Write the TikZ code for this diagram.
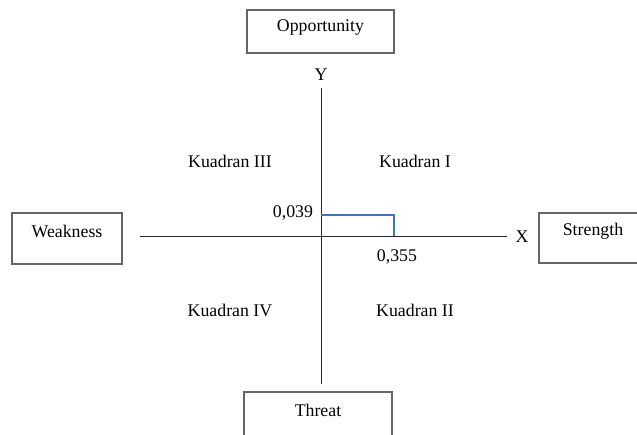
\documentclass[tikz,border=0pt]{standalone}
\usepackage{fontspec}
\setmainfont{Liberation Serif}
\usetikzlibrary{positioning}

\begin{document}
\begin{tikzpicture}[x=0.03cm,y=-0.03cm]
    \tikzstyle{kotak}=[draw=black!60,line width=1.1pt,inner sep=0pt,outer sep=0pt]
    \tikzstyle{teks}=[font=\fontsize{15.2}{18}\selectfont,inner sep=0pt]
    \tikzstyle{sumbu}=[draw=black!85,line width=0.8pt]
    \useasboundingbox (0,0) rectangle (637,434);
    \clip (0,0) rectangle (637,434);
    % kotak faktor
    \node[kotak,minimum width=4.41cm,minimum height=1.29cm] (opp) at (320.5,31.5) {};
    \node[kotak,minimum width=3.30cm,minimum height=1.53cm] (weak) at (67,238.5) {};
    \node[kotak,minimum width=3.30cm,minimum height=1.50cm] (str) at (594,238) {};
    \node[kotak,minimum width=4.44cm,minimum height=1.80cm] (thr) at (318,422) {};
    \node[teks] (opptxt) at (320.5,28) {Opportunity};
    \node[teks] (weaktxt) at (67,231) {Weakness};
    \node[teks] (strtxt) at (593,231) {Strength};
    \node[teks] (thrtxt) at (318,410) {Threat};
    % sumbu
    \coordinate (atas) at (321,88);
    \coordinate (bawah) at (321,384);
    \coordinate (kiri) at (140,236);
    \coordinate (kanan) at (507,236);
    \node[teks] (ylbl) at (321,75) {Y};
    \node[teks] (xlbl) at (522,237) {X};
    \draw[sumbu] (atas) -- (bawah);
    \draw[sumbu] (kiri) -- (kanan);
    % titik posisi
    \coordinate (ty) at (321,215);
    \coordinate (tp) at (394,215);
    \coordinate (tx) at (394,236);
    \draw[color={rgb,255:red,68;green,114;blue,196},line width=1.2pt] (ty) -- (tp) -- (tx);
    \node[teks] (vy) at (293,213) {0,039};
    \node[teks] (vx) at (397,257) {0,355};
    % kuadran
    \node[teks] (k3) at (230,161) {Kuadran III};
    \node[teks] (k1) at (415,161) {Kuadran I};
    \node[teks] (k4) at (230,310) {Kuadran IV};
    \node[teks] (k2) at (415,310) {Kuadran II};
\end{tikzpicture}
\end{document}
